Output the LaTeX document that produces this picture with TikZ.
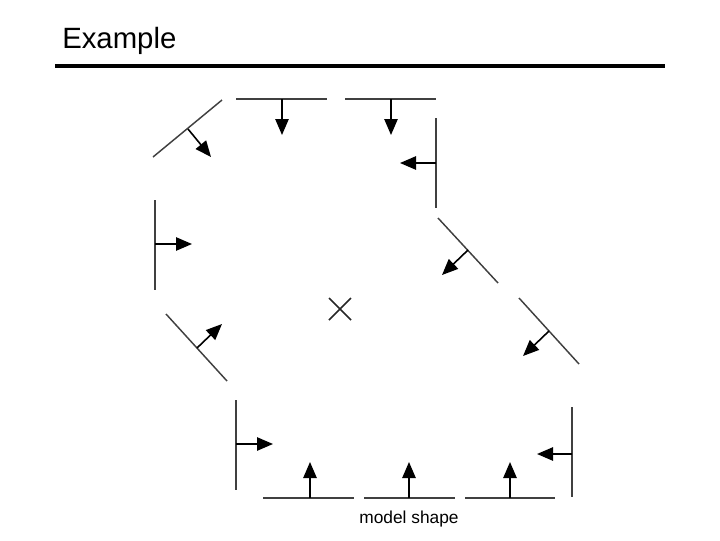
\documentclass[tikz,border=0pt]{standalone}
\usepackage{fontspec}
\setmainfont{Liberation Sans}
\usetikzlibrary{arrows.meta}
\begin{document}
\begin{tikzpicture}[x=0.75pt,y=-0.75pt,
 seg/.style={draw=black!75,line width=1.1pt},
 nrm/.style={draw=black,line width=1.2pt,-{Triangle[length=12pt,width=10pt]}}]
\useasboundingbox (0,0) rectangle (720,540);
\node[anchor=west,font=\fontsize{22}{26}\selectfont,inner sep=0pt] (title) at (62,41) {Example};
\coordinate (l1) at (55,66); \coordinate (l2) at (665,66);
\draw[line width=2.4pt] (l1) -- (l2);
\foreach \a/\b/\m/\e [count=\i] in {
 {153,157}/{222,100}/{188,129}/{211,157},
 {236,99}/{327,99}/{282,99}/{282,135},
 {345,99}/{436,99}/{391,99}/{391,135},
 {436,118}/{436,208}/{436,163}/{400,163},
 {155,200}/{155,290}/{155,244}/{192,244},
 {438,218}/{498,283}/{468,250}/{442,275},
 {166,314}/{227,381}/{197,348}/{222,324},
 {519,298}/{579,364}/{549,331}/{523,356},
 {236,400}/{236,490}/{236,444}/{273,444},
 {572,407}/{572,497}/{572,454}/{537,454},
 {263,498}/{354,498}/{310,498}/{310,462},
 {364,498}/{455,498}/{409,498}/{409,462},
 {465,498}/{555,498}/{510,498}/{510,462}}{
 \coordinate (a\i) at (\a); \coordinate (b\i) at (\b);
 \coordinate (m\i) at (\m); \coordinate (e\i) at (\e);
 \draw[seg] (a\i) -- (b\i);
 \draw[nrm] (m\i) -- (e\i);
}
\coordinate (x1) at (329,298); \coordinate (x2) at (351,320);
\coordinate (x3) at (329,320); \coordinate (x4) at (351,298);
\draw[seg,draw=black!85] (x1) -- (x2) (x3) -- (x4);
\node[font=\fontsize{13}{15}\selectfont] (cap) at (409,519) {model shape};
\end{tikzpicture}
\end{document}
